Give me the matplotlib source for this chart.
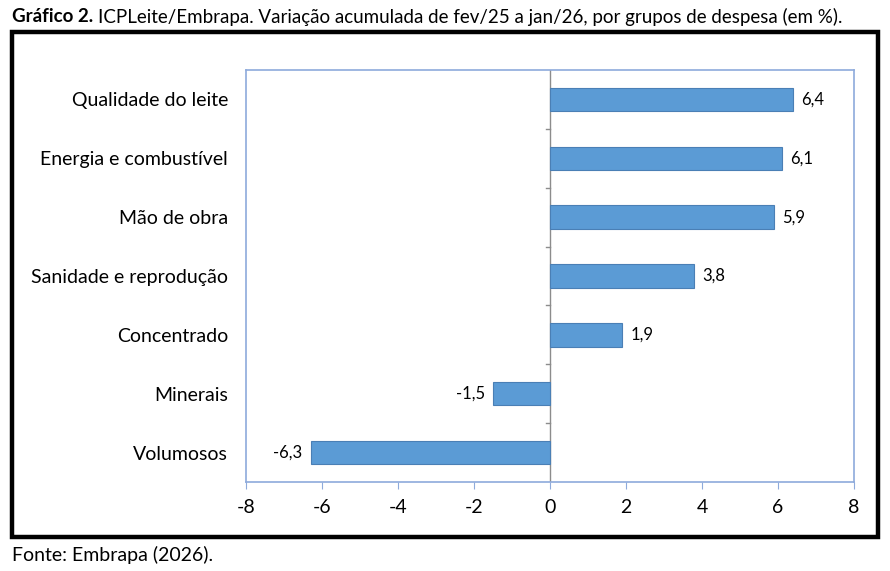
import matplotlib.pyplot as plt
from matplotlib.patches import Rectangle

plt.rcParams['font.family'] = ['Lato', 'DejaVu Sans']

grupos = ['Qualidade do leite', 'Energia e combustível', 'Mão de obra',
          'Sanidade e reprodução', 'Concentrado', 'Minerais', 'Volumosos']
valores = [6.4, 6.1, 5.9, 3.8, 1.9, -1.5, -6.3]
xticks = [-8, -6, -4, -2, 0, 2, 4, 6, 8]

W, H = 890, 571
fig = plt.figure(figsize=(W / 100, H / 100), dpi=100)
# area do grafico em pixels
ax = fig.add_axes([246 / W, 1 - 482 / H, (854 - 246) / W, (482 - 70) / H])

pos = list(range(len(grupos)))
ax.barh(pos, valores, height=0.4, color='#5B9BD5', edgecolor='#4A7FB5',
        linewidth=0.8, zorder=3)
ax.set_xlim(-8, 8)
ax.set_ylim(len(grupos) - 0.5, -0.5)

for p, v in zip(pos, valores):
    txt = f'{v:.1f}'.replace('.', ',')
    if v >= 0:
        ax.annotate(txt, (v, p), xytext=(6, 0), textcoords='offset points',
                    ha='left', va='center', fontsize=12)
    else:
        ax.annotate(txt, (v, p), xytext=(-6, 0), textcoords='offset points',
                    ha='right', va='center', fontsize=12)

# linha do zero com marcas entre as categorias
ax.axvline(0, color='#8C8C8C', linewidth=1, zorder=2)
for k in range(1, len(grupos)):
    ax.plot([-0.1, 0], [k - 0.5, k - 0.5], color='#8C8C8C', linewidth=1, zorder=2)

for s in ax.spines.values():
    s.set_color('#8EAADB')
    s.set_linewidth(1.2)

ax.set_xticks(xticks)
ax.set_xticklabels([str(t) for t in xticks], fontsize=14)
ax.tick_params(axis='x', direction='out', length=5, color='#8EAADB', pad=7)
ax.set_yticks(pos)
ax.set_yticklabels(grupos, fontsize=14)
ax.tick_params(axis='y', length=0, pad=13)

# moldura preta
fig.patches.append(Rectangle((12 / W, 1 - 537 / H), (878 - 12) / W, (537 - 32) / H,
                             transform=fig.transFigure, fill=False,
                             edgecolor='black', linewidth=3.2))

t1 = fig.text(12 / W, 1 - 17 / H, 'Gráfico 2.', fontsize=13.5, fontweight='bold',
              ha='left', va='center')
fig.canvas.draw()
x1 = t1.get_window_extent().x1
fig.text((x1 + 5) / W, 1 - 17 / H,
         'ICPLeite/Embrapa. Variação acumulada de fev/25 a jan/26, por grupos de despesa (em %).',
         fontsize=13.5, ha='left', va='center')
fig.text(12 / W, 1 - 555 / H, 'Fonte: Embrapa (2026).', fontsize=14,
         ha='left', va='center')

fig.savefig('out.png', dpi=100)
